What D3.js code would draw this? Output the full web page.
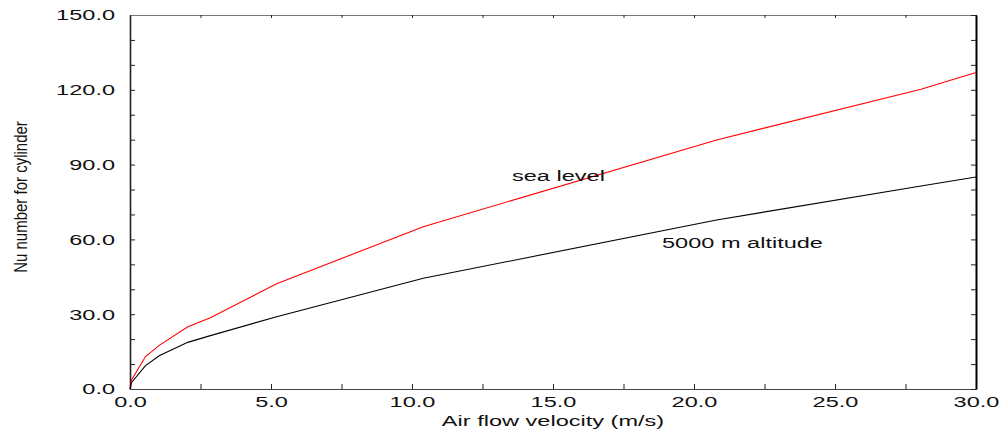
<!DOCTYPE html>
<html>
<head>
<meta charset="utf-8">
<script src="https://cdn.jsdelivr.net/npm/d3@7"></script>
<style>
  body { margin: 0; background: #fff; }
  text { font-family: "Liberation Sans", Arial, sans-serif; font-size: 15px; fill: #111; }
</style>
</head>
<body>
<script>
// values
let velocity     = [0, 0.05, 0.55, 1.05, 2.05, 2.85, 5.2, 10.4, 20.8, 28.05, 30];
let seaLevel     = [0, 3.5, 13.0, 17.6, 25.0, 28.6, 42.2, 65.1, 99.9, 120.2, 126.9];
let altitude5000 = [0, 2.5, 9.4, 13.4, 18.7, 21.4, 29.0, 44.4, 67.8, 81.4, 85.0];

let xTicks = d3.range(0, 30.01, 2.5);
let yTicks = d3.range(0, 150.01, 10);

let W = 1002, H = 432;
let plotLeft = 130, plotRight = 976, plotTop = 15, plotBottom = 389;
let stretch = 1.57;   // the source text is drawn wide
let fmt = d3.format(".1f");

let svg = d3.select("body").append("svg").attr("width", W).attr("height", H);

let x = d3.scaleLinear().domain([0, 30]).range([plotLeft, plotRight]);
let y = d3.scaleLinear().domain([0, 150]).range([plotBottom, plotTop]);

/* frame axes, all ticks pointing inward */
let gLeft = svg.append("g").attr("transform", `translate(${plotLeft},0)`)
    .call(d3.axisLeft(y).tickValues(yTicks).tickSizeInner(-5).tickSizeOuter(0).tickPadding(15)
        .tickFormat(d => d % 30 === 0 ? fmt(d) : ""));
let gBottom = svg.append("g").attr("transform", `translate(0,${plotBottom})`)
    .call(d3.axisBottom(x).tickValues(xTicks).tickSizeInner(-5).tickSizeOuter(0)
        .tickFormat(d => d % 5 === 0 ? fmt(d) : ""));
let gTop = svg.append("g").attr("transform", `translate(0,${plotTop})`)
    .call(d3.axisTop(x).tickValues(xTicks).tickSizeInner(-3).tickSizeOuter(0).tickFormat(""));
let gRight = svg.append("g").attr("transform", `translate(${plotRight},0)`)
    .call(d3.axisRight(y).tickValues(yTicks).tickSizeInner(-5).tickSizeOuter(0).tickFormat(""));

[gLeft, gBottom, gTop, gRight].forEach(g => {
    g.attr("font-size", null).attr("font-family", null);
    g.selectAll("text").attr("fill", null);
});
gLeft.selectAll("text").attr("x", -15 / stretch).attr("transform", `scale(${stretch},1)`);
gBottom.selectAll("text").attr("y", 7.5).attr("dy", "0.71em").attr("transform", `scale(${stretch},1)`);

gLeft.select(".domain").attr("stroke", "#222").attr("stroke-width", 1.6);
gRight.select(".domain").attr("stroke", "#000").attr("stroke-width", 2);
gTop.select(".domain").attr("stroke", "#777");
gBottom.select(".domain").attr("stroke", "#444");
svg.selectAll(".tick line").attr("stroke", "#222");

/* curves */
let series = [
    {name: "sea level", values: seaLevel, color: "#ff0000"},
    {name: "5000 m altitude", values: altitude5000, color: "#000000"}
];
let line = d3.line()
    .x((d, i) => x(velocity[i]))
    .y(d => y(d));

series.forEach(s => {
    svg.append("path")
        .attr("d", line(s.values))
        .attr("fill", "none")
        .attr("stroke", s.color)
        .attr("stroke-width", 1.1);
});

/* labels */
function wideText(txt, px, py, anchor) {
    svg.append("text")
        .attr("transform", `translate(${px},${py}) scale(${stretch},1)`)
        .attr("text-anchor", anchor)
        .text(txt);
}
wideText("sea level", 512, 181, "start");
wideText("5000 m altitude", 662, 248, "start");
wideText("Air flow velocity (m/s)", (plotLeft + plotRight) / 2, 426, "middle");

svg.append("text")
    .attr("transform", `translate(27,197) scale(1.25,1) rotate(-90)`)
    .attr("text-anchor", "middle")
    .text("Nu number for cylinder");
</script>
</body>
</html>
